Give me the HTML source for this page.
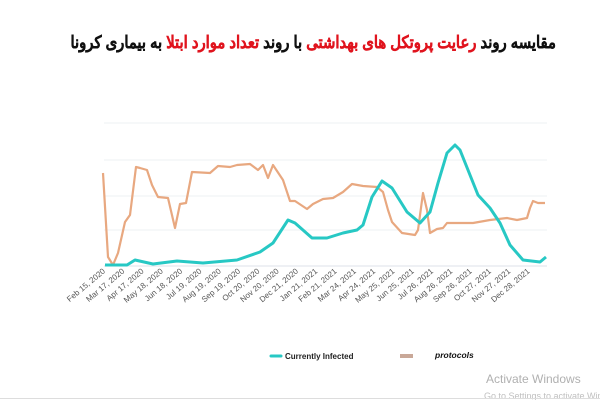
<!DOCTYPE html>
<html><head><meta charset="utf-8"><style>
body{margin:0;width:600px;height:400px;background:#fff;overflow:hidden;position:relative;font-family:"Liberation Sans",sans-serif}
.t{position:absolute;top:33px;right:44px;direction:rtl;font-family:"Liberation Sans","Noto Sans CJK SC",sans-serif;font-weight:900;font-size:17px;color:#111;white-space:nowrap;transform:scaleX(0.87);transform-origin:right center;-webkit-text-stroke:0.4px #111}
.r{color:#e0141e;-webkit-text-stroke:0.4px #e0141e}
</style></head><body>
<div class="t">مقایسه روند <span class="r">رعایت پروتکل های بهداشتی</span> با روند <span class="r">تعداد موارد ابتلا</span> به بیماری کرونا</div>
<svg width="600" height="400" style="position:absolute;left:0;top:0">
<g stroke="#eef0f3" stroke-width="1">
<line x1="104" y1="123" x2="547" y2="123"/><line x1="104" y1="160" x2="547" y2="160"/><line x1="104" y1="196" x2="547" y2="196"/><line x1="104" y1="230" x2="547" y2="230"/><line x1="104" y1="266" x2="547" y2="266" stroke="#dde2ea"/>
</g>
<polyline fill="none" stroke="#e8a880" stroke-width="2.2" stroke-linejoin="round" points="103,173 108,257 113,265 118,253 125,222 130,215 136,167 140,168 147,170 152,185 158,197 168,198 175,228 180,204 186,203 192,172 210,173 218,166 230,167 237,165 250,164 258,170 263,165 268,178 273,165 283,180 290,201 295,201 307,209 313,204 323,199 333,198 343,192 352,184 363,186 377,187 383,192 388,210 392,222 402,233 415,235 418,230 423,193 427,210 430,233 437,229 443,228 447,223 457,223 473,223 490,220 507,218 517,220 527,218 530,208 533,201 538,203 545,203"/>
<polyline fill="none" stroke="#27c8c4" stroke-width="3" stroke-linejoin="round" points="105,265 127,265 135,260 153,264 177,261 203,263 237,260 260,252 273,243 288,220 295,223 312,238 327,238 343,233 357,230 363,225 372,197 382,181 392,188 407,212 420,223 430,212 438,183 447,153 455,145 460,150 470,175 478,195 490,208 500,223 510,245 523,260 540,262 546,257"/>
<g font-size="8" fill="#555" text-anchor="end">
<text transform="translate(105.7,272) rotate(-40)">Feb 15, 2020</text>
<text transform="translate(125,272) rotate(-40)">Mar 17, 2020</text>
<text transform="translate(144.3,272) rotate(-40)">Apr 17, 2020</text>
<text transform="translate(163.6,272) rotate(-40)">May 18, 2020</text>
<text transform="translate(182.9,272) rotate(-40)">Jun 18, 2020</text>
<text transform="translate(202.2,272) rotate(-40)">Jul 19, 2020</text>
<text transform="translate(221.5,272) rotate(-40)">Aug 19, 2020</text>
<text transform="translate(240.8,272) rotate(-40)">Sep 19, 2020</text>
<text transform="translate(260.1,272) rotate(-40)">Oct 20, 2020</text>
<text transform="translate(279.4,272) rotate(-40)">Nov 20, 2020</text>
<text transform="translate(298.7,272) rotate(-40)">Dec 21, 2020</text>
<text transform="translate(318,272) rotate(-40)">Jan 21, 2021</text>
<text transform="translate(337.3,272) rotate(-40)">Feb 21, 2021</text>
<text transform="translate(356.6,272) rotate(-40)">Mar 24, 2021</text>
<text transform="translate(375.9,272) rotate(-40)">Apr 24, 2021</text>
<text transform="translate(395.2,272) rotate(-40)">May 25, 2021</text>
<text transform="translate(414.5,272) rotate(-40)">Jun 25, 2021</text>
<text transform="translate(433.8,272) rotate(-40)">Jul 26, 2021</text>
<text transform="translate(453.1,272) rotate(-40)">Aug 26, 2021</text>
<text transform="translate(472.4,272) rotate(-40)">Sep 26, 2021</text>
<text transform="translate(491.7,272) rotate(-40)">Oct 27, 2021</text>
<text transform="translate(511,272) rotate(-40)">Nov 27, 2021</text>
<text transform="translate(530.3,272) rotate(-40)">Dec 28, 2021</text>
</g>
<line x1="271" y1="356" x2="281" y2="356" stroke="#27c8c4" stroke-width="3" stroke-linecap="round"/>
<text x="285" y="359" font-size="8" font-weight="bold" fill="#222">Currently Infected</text>
<rect x="400" y="354" width="13" height="4" fill="#c9a898"/>
<text x="435" y="358" font-size="8.5" font-weight="bold" font-style="italic" fill="#111">protocols</text>
<text x="486" y="383" font-size="12" fill="#b0b0b0">Activate Windows</text>
<text x="484" y="399" font-size="9" fill="#c0c0c0">Go to Settings to activate Windows.</text>
<line x1="0" y1="398.5" x2="600" y2="398.5" stroke="#ddd"/>
</svg>
</body></html>
